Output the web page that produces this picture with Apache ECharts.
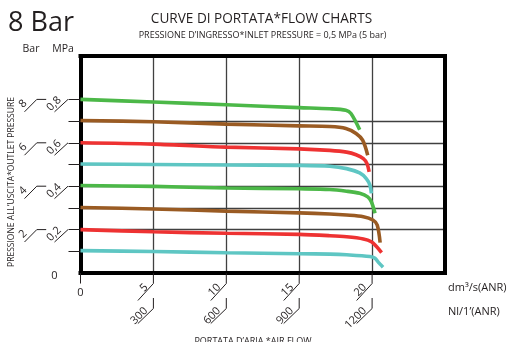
<!DOCTYPE html>
<html>
<head>
<meta charset="utf-8">
<script src="https://cdn.jsdelivr.net/npm/echarts@6/dist/echarts.min.js"></script>
<style>
  html, body { margin: 0; padding: 0; background: #fff; }
  #chart { width: 509px; height: 342px; }
</style>
</head>
<body>
<div id="chart"></div>
<script>
// Flow curves: outlet pressure (MPa) against air flow (dm3/s ANR)
const green08 = [[0, 0.8], [5, 0.788], [10, 0.775], [15, 0.762], [17.1, 0.757], [18.2, 0.75], [18.55, 0.735], [19.15, 0.66]];
const brown07 = [[0, 0.703], [5, 0.697], [10, 0.686], [15, 0.678], [17.1, 0.675], [18.2, 0.666], [18.9, 0.643], [19.35, 0.612], [19.7, 0.543]];
const red06   = [[0, 0.6], [5, 0.594], [10, 0.58], [15, 0.572], [17.1, 0.565], [18.25, 0.557], [18.9, 0.545], [19.4, 0.527], [19.65, 0.504], [19.8, 0.466]];
const cyan05  = [[0, 0.502], [5, 0.5], [10, 0.498], [15, 0.496], [17.1, 0.492], [18.25, 0.481], [19.15, 0.461], [19.6, 0.435], [19.85, 0.405], [19.95, 0.367]];
const green04 = [[0, 0.403], [5, 0.399], [10, 0.392], [15, 0.388], [17.1, 0.385], [18.25, 0.377], [19.15, 0.367], [19.7, 0.351], [19.95, 0.328], [20.2, 0.275]];
const brown03 = [[0, 0.302], [5, 0.295], [10, 0.285], [15, 0.277], [17.1, 0.272], [18.25, 0.267], [19.4, 0.259], [20.05, 0.244], [20.35, 0.221], [20.55, 0.14]];
const red02   = [[0, 0.2], [5, 0.19], [10, 0.183], [15, 0.178], [17.1, 0.172], [18.25, 0.167], [19.4, 0.157], [19.95, 0.144], [20.3, 0.122], [20.65, 0.094]];
const cyan01  = [[0, 0.103], [5, 0.099], [10, 0.093], [15, 0.089], [17.1, 0.087], [18.25, 0.084], [19.85, 0.076], [20.2, 0.068], [20.45, 0.048], [20.75, 0.027]];

// Axis ticks and their labels
const dmTicks = [0, 5, 10, 15, 20];
const nlLabels = ['', '300', '600', '900', '1200'];
const mpaTicks = [0, 0.2, 0.4, 0.6, 0.8];
const mpaLabels = ['0', '0,2', '0,4', '0,6', '0,8'];
const barLabels = ['', '2', '4', '6', '8'];
const pressureTicks = [0.1, 0.2, 0.3, 0.4, 0.5, 0.6, 0.7, 0.8];

const GREEN = '#4cb848', BROWN = '#9a5b23', RED = '#ee3232', CYAN = '#5ec6c3';
const INK = '#231f20';
const FONT = '"Open Sans", "Noto Sans", sans-serif';

function curve(data, color) {
  return {
    type: 'line', data: data, symbol: 'none', smooth: 0.3,
    lineStyle: { color: color, width: 3.6 }, z: 2, silent: true
  };
}

function textEl(x, y, text, size, opts) {
  return Object.assign({
    type: 'text', x: x, y: y, rotation: 0,
    style: { text: text, font: size + 'px ' + FONT, fill: INK, align: 'center', verticalAlign: 'middle' }
  }, opts || {});
}

// leader lines and rotated labels under the flow axis
function renderFlowAxis(params, api) {
  const i = params.dataIndex;
  const p = api.coord([api.value(0), 0]);
  const tx = p[0], y0 = p[1];
  const line = { stroke: INK, lineWidth: 1, fill: null };
  const kids = [{ type: 'line', shape: { x1: tx, y1: y0, x2: tx, y2: y0 + 10.5 }, style: line }];
  if (i === 0) {
    kids.push(textEl(tx, y0 + 19.5, '0', 11));
  } else {
    kids.push({ type: 'polyline', shape: { points: [[tx, y0 + 10.5], [tx - 15.5, y0 + 27.5]] }, style: line });
    kids.push({ type: 'polyline', shape: { points: [[tx, y0 + 25], [tx, y0 + 35.5], [tx - 15.5, y0 + 50.5]] }, style: line });
    kids.push({
      type: 'text', x: tx - 3.4, y: y0 + 16.5, rotation: Math.PI / 4,
      style: { text: String(dmTicks[i]), font: '11px ' + FONT, fill: INK, align: 'right', verticalAlign: 'bottom' }
    });
    kids.push({
      type: 'text', x: tx - 3.6, y: y0 + 40, rotation: Math.PI / 4,
      style: { text: nlLabels[i], font: '11px ' + FONT, fill: INK, align: 'right', verticalAlign: 'bottom' }
    });
  }
  return { type: 'group', children: kids };
}

// leader lines and rotated labels beside the pressure axis (bar and MPa)
function renderPressureAxis(params, api) {
  const i = params.dataIndex;
  const p = api.coord([0, api.value(1)]);
  const x0 = p[0], ty = p[1];
  const line = { stroke: INK, lineWidth: 1, fill: null };
  if (i === 0) {
    return { type: 'group', children: [textEl(x0 - 26, ty + 3, mpaLabels[0], 11)] };
  }
  return {
    type: 'group',
    children: [
      { type: 'polyline', shape: { points: [[x0 - 56, ty + 12.4], [x0 - 43.7, ty], [x0 - 34.3, ty]] }, style: line },
      { type: 'polyline', shape: { points: [[x0 - 26, ty + 12.4], [x0 - 12.5, ty]] }, style: line },
      textEl(x0 - 57.5, ty + 4.5, barLabels[i], 11, { rotation: Math.PI / 4 }),
      textEl(x0 - 26.5, ty + 4.5, mpaLabels[i], 11, { rotation: Math.PI / 4 })
    ]
  };
}

const chart = echarts.init(document.getElementById('chart'), null, { renderer: 'canvas' });

const borderLine = { show: true, onZero: false, lineStyle: { color: '#000', width: 4, cap: 'square' } };
const gridLine = { show: true, showMinLine: false, showMaxLine: false, lineStyle: { color: '#404040', width: 1.3 } };

chart.setOption({
  animation: false,
  backgroundColor: '#fff',
  grid: { left: 80.5, right: 64, top: 56, bottom: 69 },
  xAxis: [
    { type: 'value', min: 0, max: 25, interval: 5, position: 'bottom',
      axisLine: borderLine, axisTick: { show: false }, axisLabel: { show: false }, splitLine: gridLine },
    { type: 'value', min: 0, max: 25, interval: 5, position: 'top',
      axisLine: borderLine, axisTick: { show: false }, axisLabel: { show: false }, splitLine: { show: false } }
  ],
  yAxis: [
    { type: 'value', min: 0, max: 1, interval: 0.2, position: 'left',
      axisLine: borderLine,
      axisTick: { show: true, customValues: pressureTicks, length: 12, lineStyle: { color: INK, width: 1 } },
      axisLabel: { show: false }, splitLine: gridLine },
    { type: 'value', min: 0, max: 1, interval: 0.2, position: 'right',
      axisLine: borderLine, axisTick: { show: false }, axisLabel: { show: false }, splitLine: { show: false } }
  ],
  graphic: [
    textEl(8, 23.5, '8 Bar', 27, { style: { text: '8 Bar', font: '27px ' + FONT, fill: INK, align: 'left', verticalAlign: 'middle' } }),
    textEl(261.5, 19.5, 'CURVE DI PORTATA*FLOW CHARTS', 13.6),
    textEl(262.5, 35, 'PRESSIONE D\u2019INGRESSO*INLET PRESSURE = 0,5 MPa (5 bar)', 9),
    textEl(31, 49.5, 'Bar', 10.5),
    textEl(63, 49.5, 'MPa', 10.5),
    textEl(448, 288, 'dm\u00b3/s(ANR)', 11, { style: { text: 'dm\u00b3/s(ANR)', font: '11px ' + FONT, fill: INK, align: 'left', verticalAlign: 'middle' } }),
    textEl(448, 312, 'Nl/1\u2019(ANR)', 11, { style: { text: 'Nl/1\u2019(ANR)', font: '11px ' + FONT, fill: INK, align: 'left', verticalAlign: 'middle' } }),
    textEl(253, 341, 'PORTATA D\u2019ARIA *AIR FLOW', 9),
    textEl(12, 182, 'PRESSIONE ALL\u2019USCITA*OUTLET PRESSURE', 8.5, { rotation: Math.PI / 2 })
  ],
  series: [
    curve(green08, GREEN), curve(brown07, BROWN), curve(red06, RED), curve(cyan05, CYAN),
    curve(green04, GREEN), curve(brown03, BROWN), curve(red02, RED), curve(cyan01, CYAN),
    { type: 'custom', coordinateSystem: 'cartesian2d', clip: false, silent: true, z: 5,
      data: dmTicks.map(v => [v, 0]), renderItem: renderFlowAxis },
    { type: 'custom', coordinateSystem: 'cartesian2d', clip: false, silent: true, z: 5,
      data: mpaTicks.map(v => [0, v]), renderItem: renderPressureAxis }
  ]
});
</script>
</body>
</html>
